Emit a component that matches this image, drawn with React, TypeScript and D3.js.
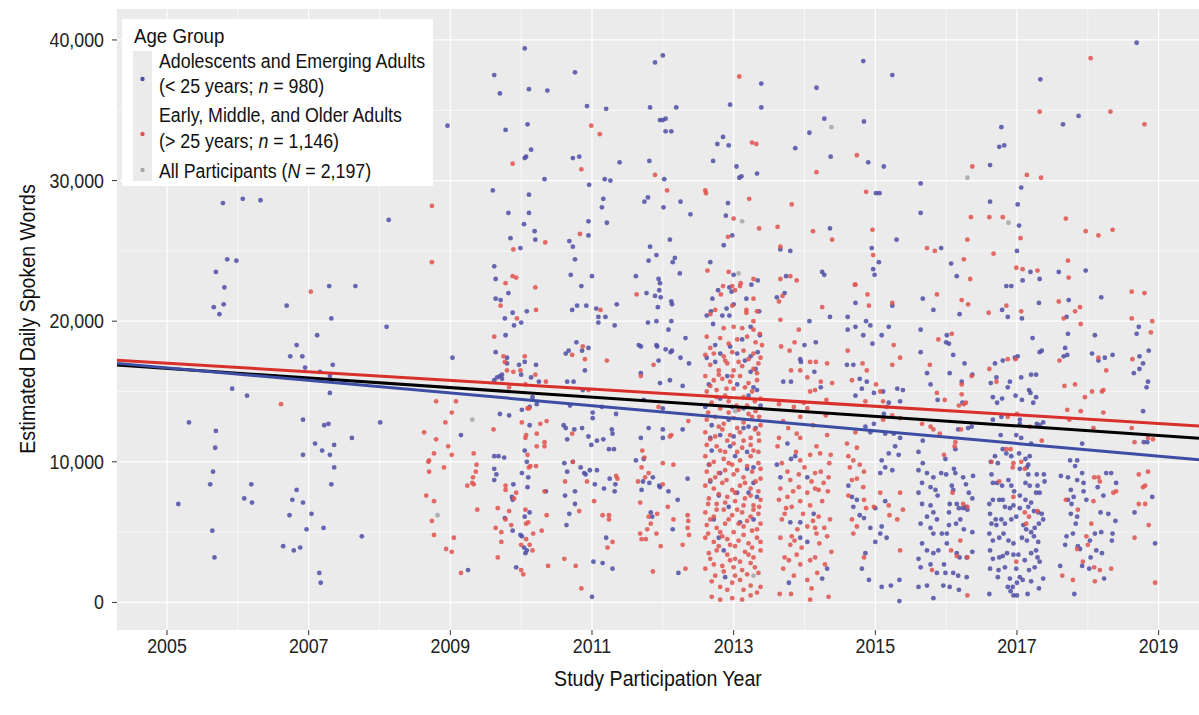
import * as d3 from 'd3';

const FONT = "'Liberation Sans', Arial, sans-serif";

// [study year, estimated daily spoken words in thousands]
const adolescents: [number, number][] = [
  [2005.79,28.4],[2006.07,28.7],[2006.32,28.6],[2008.13,27.2],[2005.85,24.4],[2005.98,24.3],[2005.69,23.5],[2005.81,22.4],[2005.66,21.0],[2005.80,21.2],[2005.74,20.5],[2007.29,22.5],[2007.66,22.5],[2006.69,21.1],[2007.32,20.2],[2008.10,19.6],[2007.12,19.0],[2006.83,18.3],[2006.74,17.5],[2006.91,17.5],[2006.95,16.7],[2007.34,16.9],[2007.16,16.4],[2007.30,16.1],[2007.30,14.9],[2009.03,17.4],[2005.92,15.2],[2006.13,14.7],[2005.31,12.8],[2006.92,13.0],[2007.22,12.6],[2007.28,12.7],[2008.01,12.8],[2007.61,11.7],[2005.69,12.2],[2005.68,11.0],[2007.09,11.3],[2007.19,10.8],[2007.36,11.2],[2006.92,10.5],[2007.30,10.5],[2007.36,9.6],[2005.65,9.3],[2005.61,8.4],[2006.19,8.4],[2007.32,8.4],[2006.83,8.0],[2006.09,7.4],[2006.20,7.1],[2006.77,7.3],[2006.92,7.1],[2005.16,7.0],[2006.73,6.2],[2007.04,6.3],[2006.97,5.2],[2007.21,5.3],[2005.64,5.1],[2007.75,4.7],[2006.64,4.0],[2006.79,3.7],[2006.88,3.9],[2005.67,3.2],[2007.15,2.1],[2007.17,1.4],
  [2010.05,39.4],[2009.62,37.5],[2009.70,36.2],[2010.11,36.5],[2010.37,36.4],[2010.76,37.7],[2010.93,35.3],[2011.20,35.1],[2011.89,38.4],[2012.00,38.9],[2011.82,35.2],[2012.19,35.2],[2008.96,33.9],[2009.78,33.6],[2010.09,34.0],[2011.96,34.3],[2012.00,34.3],[2012.04,34.4],[2012.04,33.5],[2012.12,33.5],[2010.14,32.2],[2010.05,31.6],[2010.07,31.7],[2010.73,31.6],[2010.82,31.7],[2011.39,31.3],[2011.81,31.4],[2012.02,30.1],[2010.33,30.1],[2011.18,30.1],[2011.26,30.0],[2010.96,29.7],[2009.60,29.3],[2010.11,29.0],[2011.16,28.7],[2011.74,28.5],[2011.79,28.8],[2012.25,28.5],[2012.39,27.6],[2011.14,28.1],[2012.01,28.1],[2009.82,27.7],[2010.11,27.7],[2010.04,26.9],[2010.95,27.1],[2011.21,27.0],[2010.19,26.4],[2009.85,25.9],[2010.20,25.8],[2009.99,25.2],[2010.68,25.7],[2010.73,25.3],[2010.95,26.1],[2012.10,25.8],[2011.82,25.3],[2010.76,24.4],[2011.91,24.7],[2011.80,24.3],[2012.17,24.5],[2012.14,24.2],[2012.24,23.4],[2009.62,23.9],[2009.64,23.0],[2010.70,23.3],[2011.00,23.2],[2010.85,22.5],[2011.62,23.2],[2011.94,23.0],[2011.96,22.7],[2011.95,22.2],[2011.77,22.0],[2011.89,21.8],[2011.97,21.7],[2012.12,21.4],[2012.13,21.2],[2011.93,21.0],[2009.82,22.0],[2009.64,21.6],[2009.71,21.5],[2009.88,20.6],[2010.08,20.7],[2010.72,20.8],[2010.79,21.1],[2010.92,21.1],[2011.06,20.9],[2011.35,21.2],[2011.09,20.3],[2011.19,20.3],[2009.77,20.2],
  [2009.90,19.7],[2010.00,19.9],[2009.78,19.0],[2009.64,17.8],[2009.80,17.4],[2009.80,17.0],[2009.97,16.9],[2010.05,17.1],[2010.21,16.9],[2009.62,15.8],[2009.66,16.0],[2009.70,16.1],[2009.73,16.2],[2009.73,15.9],[2010.00,16.2],[2010.14,16.0],[2010.25,15.7],[2009.70,13.4],[2009.83,13.3],[2010.01,13.7],[2010.12,13.9],[2010.22,14.1],[2010.16,14.6],[2010.12,12.6],[2009.15,11.9],[2009.62,10.4],[2009.68,10.4],[2009.76,10.3],[2009.62,9.5],[2009.65,9.1],[2009.62,8.7],[2010.05,10.8],[2010.08,10.0],[2010.01,9.2],[2010.10,8.9],[2010.09,8.2],[2009.89,8.4],[2009.87,7.5],[2009.88,7.3],[2009.77,6.0],[2009.88,5.1],[2010.05,6.1],[2010.12,6.4],[2009.99,4.8],[2010.01,4.7],[2010.04,3.9],[2010.08,3.7],[2010.06,3.5],[2009.93,2.5],[2009.25,2.3],[2010.35,7.9],[2010.78,18.5],[2010.63,17.7],[2010.67,17.9],[2010.86,17.9],[2010.90,16.5],[2010.95,18.1],[2010.65,15.7],[2010.74,15.7],[2010.87,15.1],[2010.69,14.0],[2011.01,13.5],[2011.01,13.1],[2011.14,13.9],[2011.34,13.4],[2011.09,19.9],[2011.32,19.7],[2010.60,12.6],[2010.63,12.4],[2010.65,11.6],[2010.75,12.3],[2010.86,12.4],[2010.95,11.8],[2010.99,11.2],[2011.07,11.5],[2011.16,11.6],[2011.24,10.9],[2011.31,10.9],[2011.28,12.3],[2011.29,12.0],[2010.61,9.9],[2010.65,9.3],[2010.73,10.0],[2010.84,9.6],[2010.89,9.2],[2010.91,9.1],[2010.97,9.4],[2011.07,9.4],[2011.04,8.4],[2011.17,8.1],[2010.62,7.6],[2010.76,7.9],[2010.76,7.0],[2010.68,6.3],[2010.64,5.5],[2011.25,8.8],[2011.33,8.4],[2011.32,7.9],[2011.20,4.6],[2011.02,2.9],[2011.15,2.8],[2011.29,2.4],[2011.00,0.4],[2011.79,19.9],[2011.91,20.0],[2012.08,19.4],[2012.12,20.0],[2011.66,18.3],[2011.69,18.2],[2011.91,18.3],[2011.92,18.2],[2012.04,18.0],[2012.11,17.8],[2012.13,17.9],[2012.32,18.8],[2012.25,17.4],[2012.37,17.0],[2011.94,17.2],[2011.69,16.3],[2011.96,15.6],[2012.10,15.8],[2012.28,15.4],[2011.73,14.4],[2012.00,13.8],[2011.80,12.4],[2011.69,11.7],[2012.00,12.3],[2012.00,11.7],[2012.28,12.3],[2011.62,10.1],[2011.73,10.2],[2011.86,8.9],[2011.81,8.5],[2011.72,8.6],[2011.70,8.0],[2011.95,8.3],[2011.96,8.2],[2012.08,7.9],[2012.21,7.3],[2012.35,8.8],[2011.83,6.4],[2011.85,6.1],[2012.14,5.2],[2012.22,2.1],
  [2014.83,38.5],[2015.24,37.5],[2013.39,36.9],[2014.17,36.6],[2012.95,35.4],[2013.39,35.2],[2014.28,34.4],[2014.84,34.2],[2014.07,33.4],[2012.85,33.1],[2012.77,32.6],[2012.93,32.5],[2013.87,32.3],[2014.37,31.7],[2014.90,31.3],[2015.12,31.0],[2012.71,31.4],[2013.04,31.0],[2013.08,30.2],[2013.11,30.3],[2013.33,30.5],[2015.64,29.8],[2015.01,29.1],[2015.06,29.1],[2015.64,27.7],[2012.92,28.4],[2012.89,27.5],[2012.98,26.1],[2012.86,25.4],[2014.36,26.6],[2013.66,25.1],[2013.80,25.0],[2015.30,25.8],[2014.95,25.2],[2015.05,24.2],[2014.97,23.7],[2014.99,23.3],[2012.67,24.2],[2014.25,23.5],[2014.28,23.3],[2013.74,23.2],[2013.00,23.3],[2013.34,22.9],[2013.25,22.6],[2012.94,22.4],[2012.97,22.1],[2012.78,22.2],[2012.70,21.6],[2013.00,21.2],[2013.18,21.6],[2013.61,21.7],[2013.72,22.0],[2014.72,21.3],[2015.67,21.6],[2015.82,20.8],[2012.90,20.9],[2012.62,20.4],[2012.68,20.7],[2012.84,20.4],[2012.94,20.4],[2013.36,20.7],[2014.36,20.3],[2014.61,20.3],[2015.24,21.1],
  [2012.71,19.8],[2013.24,19.6],[2013.37,19.0],[2012.74,18.3],[2012.95,18.2],[2013.12,18.7],[2012.62,17.4],[2012.81,17.7],[2013.05,17.7],[2013.24,17.5],[2013.34,17.8],[2012.74,17.1],[2013.16,17.2],[2013.24,16.4],[2013.31,16.6],[2012.65,15.5],[2012.91,16.1],[2013.05,15.5],[2013.28,15.3],[2012.81,14.5],[2013.21,14.7],[2013.33,15.1],[2012.60,13.9],[2012.98,13.9],[2013.14,13.8],[2013.38,14.0],[2012.69,12.6],[2012.93,13.0],[2013.21,12.5],[2012.67,11.7],[2012.81,11.9],[2013.00,11.8],[2013.14,12.4],[2013.31,12.4],[2012.69,10.8],[2012.95,11.1],[2013.19,10.7],[2012.65,9.8],[2013.02,10.4],[2013.28,9.6],[2012.81,9.2],[2013.19,9.5],[2012.67,8.6],[2013.05,7.8],[2013.28,8.5],[2012.79,7.6],[2013.21,7.8],[2013.33,7.5],[2012.93,6.8],[2013.28,5.9],[2012.72,5.9],[2013.09,5.7],[2012.79,4.6],[2012.86,3.7],[2012.88,1.8],
  [2014.07,20.0],[2014.16,18.5],[2014.00,18.3],[2013.94,17.3],[2013.95,17.1],[2014.14,16.4],[2013.70,15.7],[2013.81,15.7],[2014.23,15.3],[2013.61,9.8],[2013.76,11.3],[2013.81,10.2],[2013.87,10.4],[2013.66,8.9],[2014.04,8.9],[2014.13,6.3],[2013.80,5.7],[2013.94,5.7],[2013.94,4.6],[2014.04,4.3],[2014.32,2.4],[2013.78,1.4],[2014.25,1.7],
  [2014.61,19.4],[2014.72,19.6],[2014.87,20.0],[2014.93,19.7],[2014.83,19.0],[2014.96,18.4],[2015.09,19.0],[2015.19,19.6],[2014.60,16.9],[2014.69,16.9],[2014.78,15.9],[2014.88,15.7],[2014.81,15.2],[2014.72,14.7],[2014.98,14.9],[2015.11,15.0],[2015.31,15.2],[2015.39,15.1],[2015.35,14.3],[2015.19,14.2],[2015.12,13.4],[2014.98,12.7],[2014.93,12.1],[2014.86,12.5],[2015.14,12.0],[2015.26,12.0],[2015.35,11.7],[2015.28,11.1],[2015.33,10.5],[2015.19,10.6],[2015.09,10.1],[2015.14,9.6],[2015.07,9.2],[2015.24,9.4],[2015.14,7.2],[2014.62,8.3],[2014.67,7.5],[2014.74,7.3],[2014.69,6.8],[2014.78,6.2],[2014.84,6.0],[2015.00,6.7],[2015.09,5.4],[2015.07,4.9],[2015.16,4.6],[2014.93,5.3],[2015.00,4.3],[2014.86,3.5],[2014.81,2.4],[2014.91,1.6],[2015.09,1.1],[2015.22,1.2],[2015.34,1.6],[2015.34,0.1],
  [2015.64,19.4],[2015.64,17.8],[2015.73,16.3],[2015.78,15.5],[2015.88,14.4],[2015.67,11.5],[2015.61,10.7],[2015.67,9.9],[2015.61,9.4],[2015.73,9.2],[2015.82,8.9],[2015.66,8.5],[2015.78,8.2],[2015.85,8.0],[2015.88,7.6],[2015.61,7.8],[2015.66,7.0],[2015.78,6.9],[2015.82,6.4],[2015.73,6.1],[2015.87,5.9],[2015.64,5.6],[2015.78,5.3],[2015.82,4.9],[2015.66,4.2],[2015.73,3.7],[2015.82,3.5],[2015.89,3.7],[2015.61,3.1],[2015.78,2.7],[2015.64,2.5],[2015.87,2.1],[2015.73,1.2],[2015.82,0.3],[2015.61,1.1],
  [2018.69,39.8],[2017.33,37.2],[2017.87,34.6],[2017.65,34.0],[2016.78,33.8],[2016.75,32.4],[2016.82,32.5],[2016.62,31.1],[2017.06,29.5],[2016.62,28.5],[2017.01,28.3],[2017.03,26.8],[2015.93,25.2],[2017.00,25.0],[2016.07,24.1],[2016.15,23.2],[2017.19,23.5],[2017.08,22.9],[2017.32,23.0],[2017.59,23.5],[2017.97,23.6],[2016.85,22.5],[2016.92,22.5],[2017.31,21.3],[2017.73,21.5],[2018.19,21.7],[2016.79,20.8],[2016.19,20.5],[2016.87,20.3],[2017.07,20.2],[2017.70,20.3],
  [2016.01,19.0],[2016.04,18.4],[2016.00,18.5],[2016.10,17.6],[2016.05,16.3],[2016.26,17.0],[2016.22,15.7],[2016.37,16.2],[2016.36,12.5],[2016.31,12.4],[2016.23,14.2],[2016.17,12.3],[2016.13,10.9],[2015.99,10.2],[2015.93,9.2],[2016.00,9.1],[2016.11,9.5],[2016.13,9.2],[2016.08,8.3],[2016.10,8.0],[2016.24,8.9],[2016.28,8.4],[2016.38,9.0],[2016.32,7.8],[2016.37,7.4],[2016.05,7.0],[2016.04,6.4],[2016.15,7.0],[2016.18,6.7],[2016.24,6.7],[2016.28,6.8],[2016.30,6.6],[2016.20,5.9],[2016.14,5.6],[2016.04,5.5],[2016.25,5.2],[2016.37,5.0],[2015.94,4.9],[2016.01,4.9],[2016.01,4.2],[2016.15,3.5],[2016.19,3.2],[2016.37,3.6],[2016.29,3.2],[2015.97,2.7],[2015.99,2.1],[2016.10,2.1],[2016.17,1.9],[2016.29,1.8],[2015.96,1.2],[2016.05,1.1],[2016.18,0.9],
  [2016.69,17.0],[2016.80,17.2],[2016.63,15.6],[2016.71,16.0],[2016.66,14.6],[2016.72,14.2],[2016.79,14.5],[2016.90,15.7],[2016.87,15.3],[2016.97,17.4],[2017.01,17.5],[2016.98,14.7],[2017.07,14.4],[2017.06,16.0],[2017.17,15.1],[2017.19,14.9],[2017.20,16.2],[2017.27,16.2],[2017.27,14.6],[2017.23,14.2],[2017.22,18.8],[2017.32,17.8],[2017.35,17.9],[2016.66,13.0],[2016.78,13.2],[2016.77,11.9],[2016.99,11.9],[2017.06,11.7],[2017.04,12.7],[2017.04,13.0],[2017.28,12.7],[2017.32,12.6],[2017.37,12.8],[2016.69,10.4],[2016.63,10.0],[2016.73,9.9],[2016.80,10.9],[2016.85,10.6],[2016.92,10.4],[2017.03,10.6],[2017.12,10.2],[2017.18,10.4],[2017.16,9.8],[2017.20,11.3],[2017.14,9.6],[2017.04,9.5],[2016.64,9.1],[2016.66,8.5],[2016.72,8.5],[2016.79,8.3],[2016.88,8.7],[2016.92,8.3],[2016.96,7.9],[2017.04,7.6],[2017.12,8.5],[2017.18,8.3],[2017.16,9.1],[2017.28,9.1],[2017.29,8.3],[2017.38,9.1],[2017.39,8.6],[2017.27,7.8],[2017.32,7.8],[2016.61,7.0],[2016.66,7.3],[2016.75,7.3],[2016.80,7.3],[2016.83,6.8],[2016.90,6.7],[2016.95,6.9],[2017.04,6.7],[2017.12,7.3],[2017.16,6.8],[2017.20,7.1],[2017.24,6.5],[2017.30,6.4],[2017.35,6.3],[2017.37,5.9],[2017.31,5.6],[2016.62,6.3],[2016.70,5.9],[2016.64,5.6],[2016.71,5.5],[2016.78,5.9],[2016.83,5.6],[2016.92,5.9],[2016.99,6.1],[2017.09,5.5],[2017.13,5.2],[2017.20,5.0],[2017.25,5.3],[2016.61,4.9],[2016.66,4.4],[2016.75,4.6],[2016.81,4.9],[2016.88,4.4],[2016.95,4.2],[2017.07,4.6],[2017.14,4.4],[2017.24,4.7],[2017.30,4.3],[2017.27,3.7],[2017.20,3.5],[2016.62,3.7],[2016.66,3.1],[2016.75,3.2],[2016.80,3.3],[2016.86,3.5],[2016.95,3.4],[2017.02,3.4],[2017.11,3.0],[2017.29,3.2],[2017.32,2.9],[2017.25,2.5],[2017.17,2.3],[2016.62,2.4],[2016.74,2.3],[2016.83,2.5],[2016.99,2.4],[2017.04,1.8],[2016.90,1.7],[2016.73,1.8],[2017.37,1.7],[2016.61,0.6],[2016.87,1.1],[2016.94,1.1],[2017.00,1.4],[2016.95,0.5],[2017.00,0.5],[2016.91,0.8],[2017.15,0.6],[2017.31,1.0],[2017.08,1.6],[2017.20,1.5],
  [2017.72,19.1],[2018.10,19.0],[2017.68,18.1],[2017.71,17.6],[2017.66,17.5],[2018.06,17.7],[2018.24,17.4],[2018.35,17.6],[2018.15,17.2],[2017.92,11.3],[2017.62,9.0],[2017.72,8.9],[2017.82,9.7],[2017.85,10.1],[2017.75,10.1],[2017.76,8.0],[2017.80,7.5],[2017.77,7.0],[2017.85,8.7],[2017.94,8.5],[2017.94,7.9],[2017.98,7.3],[2017.92,9.2],[2018.26,9.2],[2018.33,9.2],[2018.40,8.5],[2018.14,8.2],[2018.22,7.6],[2018.18,6.4],[2018.29,6.3],[2018.39,5.8],[2017.72,7.3],[2017.76,6.3],[2017.85,6.1],[2017.83,5.6],[2017.70,4.7],[2017.68,4.1],[2017.79,4.9],[2017.86,4.0],[2018.03,4.4],[2018.10,4.9],[2018.12,3.7],[2018.19,5.0],[2018.20,3.5],[2018.34,4.4],[2018.35,4.9],[2017.61,2.6],[2017.92,2.6],[2018.02,2.4],[2018.23,1.7],[2017.81,0.6],[2017.89,3.8],[2018.04,3.2],
  [2018.72,19.6],[2018.69,19.1],[2018.73,17.5],[2018.78,17.0],[2018.65,16.3],[2018.73,16.6],[2018.86,17.9],[2018.85,15.7],[2018.83,15.3],[2018.78,13.6],[2018.79,11.4],[2018.84,11.4],[2018.91,7.5],[2018.66,6.4],[2018.95,4.2],
];

const adults: [number, number][] = [
  [2008.74,28.2],[2008.74,24.2],[2007.03,22.1],[2006.61,14.1],[2008.80,14.3],[2009.08,14.3],[2009.02,13.5],[2008.93,12.8],[2008.63,12.1],[2008.80,11.6],[2008.97,11.1],[2009.02,10.5],[2008.77,10.6],[2008.70,10.1],[2008.69,10.0],[2008.91,9.6],[2008.70,9.3],[2008.66,7.6],[2008.77,7.2],[2008.74,5.8],[2008.77,4.8],[2009.05,4.6],[2008.94,3.8],[2009.02,3.6],
  [2010.99,33.9],[2011.11,33.3],[2009.88,31.2],[2010.85,30.8],[2011.89,30.4],[2012.06,29.3],[2010.83,26.2],[2010.34,25.6],[2009.89,25.1],[2009.88,23.2],[2009.93,23.1],[2009.78,22.7],[2010.20,22.4],[2009.71,21.1],[2010.21,20.8],[2011.12,20.8],[2009.94,20.2],[2011.63,21.9],
  [2009.62,18.9],[2009.75,17.5],[2009.77,17.1],[2009.80,16.5],[2009.89,16.4],[2009.99,16.5],[2010.05,17.5],[2010.20,16.2],[2010.35,15.7],[2009.83,15.3],[2010.06,15.5],[2009.61,12.3],[2009.33,10.6],[2009.37,9.8],[2009.36,9.3],[2009.32,8.9],[2009.31,8.5],[2009.24,8.3],[2009.33,8.4],[2009.38,6.6],[2009.15,2.1],[2009.67,3.2],[2009.67,6.7],[2009.78,5.9],[2009.64,5.3],[2009.72,5.0],[2009.72,4.3],[2009.78,8.0],[2009.78,8.3],[2009.83,6.5],[2009.86,5.5],[2009.93,7.8],[2009.90,7.4],[2010.01,12.8],[2010.06,11.7],[2010.11,9.6],[2010.13,9.7],[2010.21,9.7],[2010.09,10.5],[2010.07,11.9],[2010.22,12.0],[2010.27,12.7],[2010.22,11.1],[2010.33,11.4],[2010.33,11.1],[2010.36,12.9],[2010.33,7.9],[2010.36,6.2],[2010.06,6.6],[2010.07,5.6],[2010.10,5.7],[2010.17,4.9],[2010.07,4.5],[2010.12,4.1],[2010.16,3.7],[2010.00,4.1],[2010.00,2.3],[2010.03,2.0],[2010.29,5.1],[2010.38,2.6],[2010.09,13.8],[2010.11,13.8],[2010.61,3.1],[2010.77,2.6],[2010.85,1.0],[2010.62,8.6],[2010.73,10.0],[2010.82,6.5],[2010.72,12.0],[2010.72,17.6],[2010.87,18.2],[2010.90,17.3],[2010.95,15.1],[2011.21,17.2],[2010.93,8.6],[2011.03,7.2],[2011.15,6.2],[2011.24,6.2],[2011.24,5.9],[2011.29,4.3],[2011.22,3.9],[2011.34,9.0],[2011.36,8.8],[2011.69,16.1],[2011.87,16.9],[2011.94,13.9],[2012.10,11.8],[2012.12,11.9],[2012.36,12.9],[2011.71,10.8],[2011.74,10.3],[2011.70,9.6],[2012.00,9.9],[2012.15,9.8],[2011.75,8.9],[2011.80,9.2],[2011.65,8.6],[2012.00,8.4],[2011.68,7.1],[2012.07,6.8],[2011.92,6.3],[2011.80,6.1],[2011.83,5.6],[2011.78,5.2],[2011.68,4.9],[2011.70,4.5],[2011.76,4.5],[2011.91,4.9],[2011.97,4.0],[2012.15,5.9],[2012.28,4.1],[2011.86,2.2],[2012.32,2.4],[2012.35,6.2],[2012.36,5.8],[2012.35,5.3],[2012.37,4.8],
  [2013.08,37.4],[2013.26,32.7],[2013.32,32.6],[2014.17,30.6],[2014.74,31.8],[2014.87,29.2],[2012.60,29.3],[2012.61,29.1],[2013.22,28.7],[2013.82,28.3],[2013.00,27.3],[2013.36,26.6],[2013.62,26.7],[2014.12,26.4],[2014.39,25.8],[2014.96,26.5],[2012.92,26.0],[2013.66,25.3],[2014.97,24.7],[2015.73,25.2],[2015.84,25.0],[2012.63,23.6],[2012.93,23.5],[2013.66,23.0],[2013.80,23.2],[2013.89,22.9],[2013.28,23.0],[2012.85,22.5],[2012.98,22.5],[2013.02,22.2],[2013.09,22.5],[2013.10,22.7],[2012.82,21.9],[2013.28,21.6],[2013.64,21.4],[2013.69,21.8],[2014.71,22.6],[2014.72,22.6],[2014.89,21.9],[2014.91,21.1],[2015.24,21.3],[2015.87,21.9],[2014.25,21.0],[2012.98,21.1],[2013.18,20.8],[2013.18,20.6],[2013.33,20.7],[2012.74,20.8],[2012.67,20.5],
  [2012.86,19.5],[2013.00,19.6],[2013.12,19.5],[2013.28,20.0],[2013.28,19.4],[2013.37,19.1],[2012.62,18.9],[2012.81,18.8],[2012.93,18.4],[2013.05,18.7],[2013.19,18.9],[2013.31,18.5],[2013.40,18.3],[2012.60,17.6],[2012.72,17.7],[2012.86,17.5],[2012.98,17.8],[2013.14,17.9],[2013.28,17.7],[2013.38,17.4],[2012.67,16.9],[2012.79,16.5],[2012.91,17.0],[2013.00,16.5],[2013.12,16.8],[2013.28,16.6],[2013.35,17.0],[2012.60,16.1],[2012.72,15.8],[2012.84,15.9],[2012.95,15.7],[2013.09,16.1],[2013.21,15.6],[2013.33,15.8],[2012.62,15.0],[2012.76,15.1],[2012.88,14.7],[2013.00,15.2],[2013.14,14.6],[2013.26,15.0],[2013.38,14.5],[2012.69,14.2],[2012.81,13.8],[2012.93,14.3],[2013.07,13.7],[2013.19,14.0],[2013.31,13.6],[2012.62,13.0],[2012.74,13.2],[2012.86,12.7],[2013.00,13.1],[2013.14,12.8],[2013.26,13.2],[2013.38,12.6],[2012.60,12.1],[2012.74,11.8],[2012.84,12.3],[2012.95,11.9],[2013.09,12.1],[2013.24,11.7],[2013.35,12.0],[2012.62,11.2],[2012.76,11.1],[2012.88,10.7],[2013.00,11.3],[2013.12,11.0],[2013.24,11.2],[2013.35,10.7],[2012.60,10.4],[2012.72,10.0],[2012.86,10.2],[2012.98,9.8],[2013.09,10.1],[2013.24,10.4],[2013.35,9.9],[2012.62,9.3],[2012.74,8.9],[2012.88,9.4],[2013.00,9.1],[2013.14,8.9],[2013.26,9.3],[2013.38,8.8],[2012.60,8.3],[2012.72,8.1],[2012.84,8.5],[2012.98,8.0],[2013.09,8.3],[2013.24,8.1],[2013.35,7.9],[2012.65,7.4],[2012.76,7.0],[2012.91,7.5],[2013.02,7.2],[2013.16,7.4],[2013.28,6.9],[2013.38,7.3],[2012.60,6.4],[2012.72,6.1],[2012.86,6.6],[2012.98,6.2],[2013.12,6.4],[2013.24,6.1],[2013.35,6.3],[2012.62,5.5],[2012.76,5.3],[2012.88,5.6],[2013.00,5.0],[2013.14,5.4],[2013.26,5.1],[2013.38,5.6],[2012.60,4.6],[2012.72,4.3],[2012.84,4.7],[2012.95,4.1],[2013.07,4.4],[2013.21,4.2],[2013.33,4.6],[2012.65,3.5],[2012.76,3.7],[2012.91,3.4],[2013.02,3.1],[2013.16,3.6],[2013.28,3.2],[2013.38,3.7],[2012.60,2.4],[2012.72,2.7],[2012.86,2.2],[2013.00,2.5],[2013.12,2.3],[2013.24,2.8],[2013.35,2.1],[2012.69,1.5],[2012.81,1.1],[2012.98,1.4],[2013.09,1.6],[2013.24,1.2],[2013.38,1.1],[2012.69,0.4],[2012.81,0.2],[2012.98,0.3],[2013.12,0.2],[2013.24,0.5],
  [2012.67,18.1],[2012.88,17.2],[2013.07,17.1],[2013.21,17.3],[2013.33,16.3],[2012.79,16.2],[2012.98,16.1],[2013.16,15.3],[2012.67,15.4],[2012.90,15.2],[2013.30,14.3],[2012.76,14.6],[2013.04,14.0],[2012.64,13.5],[2012.93,13.5],[2013.21,13.4],[2013.36,13.2],[2012.79,12.5],[2013.05,12.4],[2013.30,12.3],[2012.67,11.6],[2012.91,11.5],[2013.14,11.5],[2013.36,11.5],[2012.81,10.8],[2013.05,10.7],[2013.28,10.8],[2012.66,9.8],[2012.93,9.9],[2013.19,9.7],[2013.38,9.5],[2012.79,9.2],[2013.05,9.4],[2013.31,8.6],[2012.67,8.7],[2012.90,8.7],[2013.16,8.5],[2012.79,7.7],[2013.02,7.8],[2013.24,7.6],[2012.64,7.0],[2012.88,7.1],[2013.14,6.9],[2013.36,6.8],[2012.76,6.6],[2013.05,6.6],[2013.28,6.6],[2012.67,5.9],[2012.93,5.9],[2013.19,5.8],[2012.81,5.0],[2013.07,5.6],[2013.33,5.2],[2012.64,4.9],[2012.91,4.5],[2013.14,4.8],[2013.38,4.3],[2012.79,4.0],[2013.02,4.0],[2013.26,3.9],[2012.67,3.1],[2012.95,3.0],[2013.21,3.4],[2012.84,2.6],[2013.09,2.9],[2013.30,2.5],[2012.74,1.9],[2013.02,1.9],[2013.19,2.0],[2012.91,0.9],[2013.14,0.9],[2013.33,0.7],
  [2013.66,20.1],[2013.92,19.4],[2013.67,18.2],[2013.79,17.9],[2013.86,18.5],[2014.08,17.1],[2014.16,17.1],[2014.32,17.0],[2013.81,16.5],[2013.94,16.5],[2014.04,16.0],[2014.23,15.7],[2014.39,15.6],[2014.08,15.0],[2014.15,15.1],[2014.31,14.4],[2013.64,14.1],[2013.99,14.2],[2013.85,13.9],[2014.04,13.8],[2013.94,13.2],[2013.77,12.4],[2013.89,12.0],[2013.94,11.7],[2014.32,11.9],[2014.17,11.1],[2013.64,11.7],[2013.62,11.1],[2013.94,10.1],[2014.08,10.5],[2014.22,10.6],[2014.35,9.9],[2014.37,10.5],[2013.76,9.3],[2013.80,8.7],[2013.92,9.1],[2014.15,9.2],[2014.23,9.3],[2014.27,8.5],[2014.34,8.9],[2013.66,8.1],[2013.76,7.5],[2013.92,8.2],[2014.04,7.8],[2014.15,8.1],[2014.20,8.0],[2014.33,7.9],[2013.64,7.3],[2013.74,6.7],[2013.82,6.8],[2013.94,7.2],[2014.08,6.9],[2014.20,6.1],[2014.36,5.9],[2013.68,5.9],[2014.04,5.4],[2014.15,5.3],[2013.66,4.6],[2013.82,4.7],[2013.86,4.4],[2013.80,4.1],[2014.17,4.9],[2014.21,4.2],[2014.32,4.7],[2013.72,3.2],[2013.78,3.0],[2013.89,3.4],[2013.94,2.7],[2014.08,3.0],[2014.15,3.2],[2014.29,2.7],[2013.85,1.9],[2014.04,1.6],[2014.18,2.1],[2013.65,0.6],[2013.81,0.6],[2014.08,0.2],[2014.34,0.4],
  [2013.70,12.9],[2014.12,12.6],[2014.30,13.3],[2013.88,10.7],[2014.00,9.6],[2013.68,9.9],[2014.10,8.6],[2013.84,7.9],[2014.25,7.2],[2013.98,6.3],[2013.72,6.3],[2014.12,5.8],[2013.90,5.2],[2014.28,5.3],[2013.96,3.9],[2014.38,3.6],[2013.70,2.4],[2014.10,1.0],
  [2014.61,17.9],[2014.67,15.8],[2014.82,17.0],[2014.88,16.5],[2014.86,14.3],[2015.07,15.0],[2015.11,14.3],[2015.01,15.5],[2015.24,16.9],[2015.26,18.3],[2015.35,17.4],[2015.24,13.3],[2015.11,13.0],[2015.35,13.1],[2015.16,13.9],[2014.72,12.1],[2014.60,11.3],[2014.74,11.0],[2014.62,10.4],[2014.69,10.1],[2014.78,9.8],[2014.64,9.6],[2014.84,9.3],[2014.74,8.8],[2014.67,8.7],[2014.83,8.2],[2014.62,7.6],[2014.84,7.3],[2014.87,6.7],[2014.98,6.8],[2015.19,6.9],[2015.20,6.2],[2015.31,5.9],[2015.35,7.8],[2015.39,6.6],[2014.67,5.9],[2014.74,5.4],[2014.69,4.9],[2014.84,3.2],[2015.07,7.8],[2015.35,3.7],
  [2015.89,18.7],[2015.77,16.9],[2015.87,14.9],[2015.78,12.5],[2015.91,12.0],[2015.66,12.7],[2015.82,12.3],[2015.80,2.3],
  [2018.04,38.7],[2017.32,34.9],[2018.32,34.9],[2018.80,34.0],[2016.37,31.0],[2017.14,30.4],[2017.34,30.2],[2016.35,27.4],[2016.61,27.4],[2016.80,27.4],[2017.69,27.3],[2017.97,26.4],[2018.15,26.1],[2018.35,26.5],[2017.05,25.9],[2016.30,25.8],[2016.67,24.8],[2016.25,24.4],[2017.72,24.3],[2016.99,23.8],[2017.08,23.7],[2017.29,23.6],[2017.73,23.1],[2016.34,23.0],[2018.62,22.1],[2018.80,22.0],[2016.22,21.5],[2016.31,21.2],[2016.85,21.1],[2017.59,21.4],[2017.89,21.0],[2017.82,20.7],[2016.60,20.6],[2017.06,20.7],[2017.66,20.2],[2018.62,20.2],
  [2016.08,19.1],[2015.98,14.4],[2016.22,15.5],[2016.25,14.1],[2016.28,14.2],[2016.18,14.0],[2016.22,14.8],[2016.36,16.1],[2016.21,12.3],[2016.13,11.4],[2016.12,11.1],[2015.97,10.5],[2016.24,7.0],[2016.30,6.8],[2016.09,7.8],[2016.20,4.4],[2016.15,3.3],[2016.30,3.2],[2016.07,3.7],[2016.30,0.5],
  [2016.61,16.6],[2016.71,15.7],[2016.87,17.3],[2016.98,17.3],[2016.87,13.2],[2017.00,13.4],[2017.18,12.5],[2017.35,11.5],[2017.11,9.5],[2016.64,10.0],[2016.91,10.9],[2016.85,10.9],[2016.95,9.9],[2016.94,9.6],[2017.06,10.0],[2016.75,8.6],[2016.95,7.5],[2017.11,6.4],[2017.17,6.1],[2017.29,6.5],[2017.13,5.6],[2016.99,2.9],
  [2017.60,17.2],[2017.67,15.4],[2017.82,15.5],[2017.96,14.6],[2018.06,15.0],[2018.20,15.0],[2018.22,15.1],[2018.26,16.5],[2018.15,17.4],[2017.90,19.8],[2017.71,13.7],[2017.90,13.6],[2018.22,13.5],[2017.74,13.0],[2018.08,12.4],[2017.69,7.3],[2017.86,6.6],[2018.08,7.2],[2018.15,8.9],[2018.17,8.6],[2018.09,8.9],[2018.36,7.8],[2018.40,7.9],[2018.05,5.6],[2017.85,3.8],[2017.98,4.7],[2018.00,4.1],[2017.93,2.9],[2018.09,2.5],[2018.17,2.3],[2018.33,2.4],[2017.64,1.9],[2017.79,1.6],[2018.10,1.5],
  [2018.63,17.3],[2018.89,19.2],[2018.91,20.0],[2018.62,12.4],[2018.66,11.4],[2018.72,9.1],[2018.85,9.3],[2018.78,8.2],[2018.81,8.3],[2018.72,7.0],[2018.81,7.0],[2018.66,4.6],[2018.86,5.5],[2018.95,1.4],[2018.85,11.7],[2018.92,11.6],
];

// participants without an age group
const unassigned: [number, number][] = [
  [2008.82,6.2],[2009.31,13.0],[2014.38,33.8],[2013.12,27.1],[2013.07,23.4],[2016.30,30.2],[2016.88,27.0],[2013.28,1.9],[2013.02,13.6],
];

const yearTicks = [2005, 2007, 2009, 2011, 2013, 2015, 2017, 2019];
const minorYears = [2006, 2008, 2010, 2012, 2014, 2016, 2018];
const wordTicks = [0, 10000, 20000, 30000, 40000];
const minorWords = [5000, 15000, 25000, 35000];

// fitted lines, words at the two ends of the year axis
const trendYears = [2004.294, 2019.57];
const trendAdults = [17230, 12550];
const trendAll = [16880, 11680];
const trendAdolescents = [17000, 10150];

const BLUE = '#4d4da6';
const RED = '#e0534f';
const GREY = '#a6a6a6';

// the original uses a condensed sans; squeeze Liberation Sans horizontally
const SQUEEZE = 0.89;

function T({ x, y, size, anchor = 'start', rotate = false, children }: any) {
  return (
    <text
      transform={`translate(${x},${y})${rotate ? ' rotate(-90)' : ''} scale(${SQUEEZE},1)`}
      fontSize={size}
      textAnchor={anchor}
    >
      {children}
    </text>
  );
}

export default function App() {
  const left = 117, right = 1199, top = 9, bottom = 630;
  const x = d3.scaleLinear().domain([2004.294, 2019.57]).range([left, right]);
  const y = d3.scaleLinear().domain([-1960, 42200]).range([bottom, top]);
  const fmt = d3.format(',');

  const line = d3.line<number>().x((_, i) => x(trendYears[i])).y((d) => y(d));

  const dots = (data: [number, number][], color: string, key: string) =>
    data.map((d, i) => (
      <circle key={key + i} cx={x(d[0])} cy={y(d[1] * 1000)} r={2.4} fill={color} fillOpacity={0.85} />
    ));

  return (
    <svg width={1199} height={715} style={{ position: 'absolute', left: 0, top: 0, background: '#fff' }} fontFamily={FONT}>
      <rect x={left} y={top} width={right - left} height={bottom - top} fill="#ebebeb" />
      <g stroke="#fff">
        {minorWords.map((w) => <line key={'mw' + w} x1={left} x2={right} y1={y(w)} y2={y(w)} strokeWidth={0.6} />)}
        {minorYears.map((yr) => <line key={'my' + yr} x1={x(yr)} x2={x(yr)} y1={top} y2={bottom} strokeWidth={0.6} />)}
        {wordTicks.map((w) => <line key={'w' + w} x1={left} x2={right} y1={y(w)} y2={y(w)} strokeWidth={1.2} />)}
        {yearTicks.map((yr) => <line key={'y' + yr} x1={x(yr)} x2={x(yr)} y1={top} y2={bottom} strokeWidth={1.2} />)}
      </g>

      {dots(adolescents, BLUE, 'a')}
      {dots(adults, RED, 'b')}
      {dots(unassigned, GREY, 'c')}

      <path d={line(trendAdults) || ''} fill="none" stroke="#d9302c" strokeWidth={3} />
      <path d={line(trendAll) || ''} fill="none" stroke="#000" strokeWidth={3} />
      <path d={line(trendAdolescents) || ''} fill="none" stroke="#3b4ea3" strokeWidth={3} />

      {/* axes */}
      <g fill="#222">
        {wordTicks.map((w) => (
          <g key={'yt' + w}>
            <line x1={left - 5} x2={left} y1={y(w)} y2={y(w)} stroke="#333" />
            <T x={104} y={y(w) + 7} size={20} anchor="end">{fmt(w)}</T>
          </g>
        ))}
        {yearTicks.map((yr) => (
          <g key={'xt' + yr}>
            <line x1={x(yr)} x2={x(yr)} y1={bottom} y2={bottom + 5} stroke="#333" />
            <T x={x(yr)} y={653} size={20} anchor="middle">{yr}</T>
          </g>
        ))}
      </g>
      <g fill="#111">
        <T x={(left + right) / 2} y={686} size={22} anchor="middle">Study Participation Year</T>
        <T x={35} y={319} size={22} anchor="middle" rotate>Estimated Daily Spoken Words</T>
      </g>

      {/* legend */}
      <g>
        <rect x={122} y={19} width={311} height={167} fill="#fff" />
        <rect x={133} y={51} width={19} height={130} fill="#ebebeb" />
        <circle cx={142.5} cy={79} r={2.2} fill={BLUE} />
        <circle cx={142.5} cy={134} r={2.2} fill={RED} />
        <circle cx={142.5} cy={170} r={2.2} fill={GREY} />
        <g fill="#111">
          <T x={134} y={43} size={21}>Age Group</T>
          <T x={159} y={68} size={20}>Adolescents and Emerging Adults</T>
          <T x={159} y={93} size={20}>(&lt; 25 years; <tspan fontStyle="italic">n</tspan> = 980)</T>
          <T x={159} y={122} size={20}>Early, Middle, and Older Adults</T>
          <T x={159} y={148} size={20}>(&gt; 25 years; <tspan fontStyle="italic">n</tspan> = 1,146)</T>
          <T x={159} y={178} size={20}>All Participants (<tspan fontStyle="italic">N</tspan> = 2,197)</T>
        </g>
      </g>
    </svg>
  );
}
